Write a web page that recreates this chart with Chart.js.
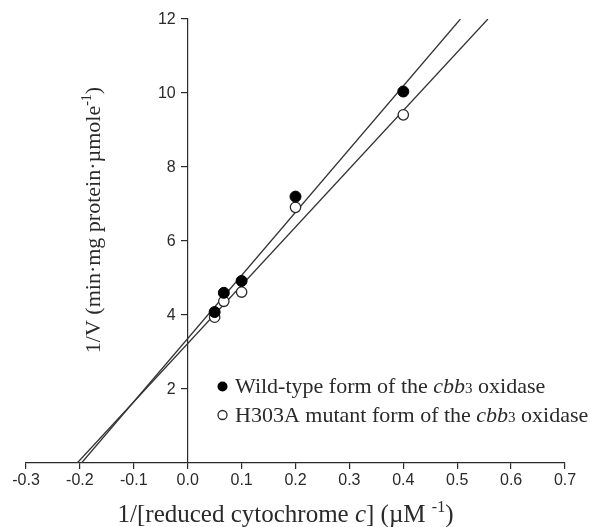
<!DOCTYPE html>
<html>
<head>
<meta charset="utf-8">
<script src="https://cdn.jsdelivr.net/npm/chart.js@4.4.0/dist/chart.umd.min.js"></script>
<style>
  html, body { margin: 0; padding: 0; background: #fff; }
  #wrap { width: 591px; height: 527px; position: relative; }
</style>
</head>
<body>
<div id="wrap"><canvas id="graf"></canvas></div>
<script>
// valores
const wtX = [0.05, 0.067, 0.1, 0.2, 0.4];
const wtY = [4.08, 4.6, 4.92, 7.2, 10.04];
const mutX = [0.05, 0.067, 0.1, 0.2, 0.4];
const mutY = [3.94, 4.37, 4.62, 6.91, 9.41];

// retas de regressao (pontas)
const wtFitX = [-0.197, 0.506];
const wtFitY = [0, 12];
const mutFitX = [-0.205, 0.557];
const mutFitY = [0, 12];

const xTicks = [-0.3, -0.2, -0.1, 0.0, 0.1, 0.2, 0.3, 0.4, 0.5, 0.6, 0.7];
const yTicks = [2, 4, 6, 8, 10, 12];

const SERIF = '"Liberation Serif", "Times New Roman", serif';
const SANS = '"Liberation Sans", Arial, sans-serif';
const INK = '#2a2a2a';

function pares(xs, ys) {
    return xs.map((x, i) => ({ x: x, y: ys[i] }));
}

// texto com pedacos em italico / sobrescrito
function fonte(p, size) {
    if (p.s === 'i') return 'italic ' + size + 'px ' + SERIF;
    if (p.s === 'sup') return Math.round(size * 0.62) + 'px ' + SERIF;
    if (p.s === 'small') return Math.round(size * 0.68) + 'px ' + SERIF;
    return size + 'px ' + SERIF;
}

function larguraRica(ctx, partes, size) {
    let w = 0;
    for (const p of partes) {
        ctx.font = fonte(p, size);
        w += ctx.measureText(p.t).width;
    }
    return w;
}

function textoRico(ctx, partes, x, y, size, align) {
    let cx = x;
    if (align === 'center') cx = x - larguraRica(ctx, partes, size) / 2;
    ctx.textBaseline = 'alphabetic';
    ctx.textAlign = 'left';
    ctx.fillStyle = INK;
    for (const p of partes) {
        ctx.font = fonte(p, size);
        const dy = p.s === 'sup' ? -size * 0.42 : 0;
        ctx.fillText(p.t, cx, y + dy);
        cx += ctx.measureText(p.t).width;
    }
}

const tituloX = [
    { t: '1/[reduced cytochrome ' }, { t: 'c', s: 'i' }, { t: '] (\u00b5M ' },
    { t: '-1', s: 'sup' }, { t: ')' }
];
const tituloY = [
    { t: '1/V (min\u00b7mg protein\u00b7\u00b5mole' }, { t: '-1', s: 'sup' }, { t: ')' }
];
const legenda1 = [
    { t: 'Wild-type form of the ' }, { t: 'cbb', s: 'i' }, { t: '3', s: 'small' }, { t: ' oxidase' }
];
const legenda2 = [
    { t: 'H303A mutant form of the ' }, { t: 'cbb', s: 'i' }, { t: '3', s: 'small' }, { t: ' oxidase' }
];

const textosPlugin = {
    id: 'textos',
    afterDraw(chart) {
        const ctx = chart.ctx;
        const a = chart.chartArea;
        const sy = chart.scales.y;
        const x0 = chart.scales.x.getPixelForValue(0);
        ctx.save();

        // rotulos do eixo y (a esquerda do eixo que passa no x=0)
        ctx.font = '16px ' + SANS;
        ctx.fillStyle = INK;
        ctx.textAlign = 'right';
        ctx.textBaseline = 'middle';
        for (const v of yTicks) {
            ctx.fillText(String(v), x0 - 12, sy.getPixelForValue(v) + 1);
        }

        // titulo do eixo x
        textoRico(ctx, tituloX, (a.left + a.right) / 2 - 10, a.bottom + 59, 25, 'center');

        // titulo do eixo y (girado)
        ctx.save();
        ctx.translate(a.left + 74, a.top + 201);
        ctx.rotate(-Math.PI / 2);
        textoRico(ctx, tituloY, 0, 0, 22, 'center');
        ctx.restore();

        // legenda
        const mx = a.left + 196.5;
        ctx.beginPath();
        ctx.arc(mx, a.top + 367.5, 5, 0, Math.PI * 2);
        ctx.fillStyle = '#000';
        ctx.fill();
        ctx.beginPath();
        ctx.arc(mx, a.top + 396, 4.5, 0, Math.PI * 2);
        ctx.fillStyle = '#fff';
        ctx.fill();
        ctx.lineWidth = 1.3;
        ctx.strokeStyle = INK;
        ctx.stroke();
        textoRico(ctx, legenda1, a.left + 209, a.top + 374, 22, 'left');
        textoRico(ctx, legenda2, a.left + 209, a.top + 402.7, 22, 'left');

        ctx.restore();
    }
};

const ctx = document.getElementById('graf').getContext('2d');
new Chart(ctx, {
    type: 'scatter',
    data: {
        datasets: [
            {
                label: 'Wild-type',
                data: pares(wtX, wtY),
                pointRadius: 5.5,
                backgroundColor: '#000',
                borderColor: '#000',
                borderWidth: 1,
                order: 0
            },
            {
                label: 'H303A',
                data: pares(mutX, mutY),
                pointRadius: 5.2,
                backgroundColor: '#fff',
                borderColor: INK,
                borderWidth: 1.3,
                order: 0
            },
            {
                type: 'line',
                label: 'fit wt',
                data: pares(wtFitX, wtFitY),
                borderColor: '#333',
                borderWidth: 1.3,
                pointRadius: 0,
                fill: false,
                order: 1
            },
            {
                type: 'line',
                label: 'fit mut',
                data: pares(mutFitX, mutFitY),
                borderColor: '#333',
                borderWidth: 1.3,
                pointRadius: 0,
                fill: false,
                order: 1
            }
        ]
    },
    options: {
        responsive: true,
        maintainAspectRatio: false,
        animation: false,
        layout: { padding: { left: 26, right: 26, top: 19, bottom: 0 } },
        plugins: {
            legend: { display: false },
            tooltip: { enabled: false }
        },
        scales: {
            x: {
                type: 'linear',
                position: 'bottom',
                min: xTicks[0],
                max: xTicks[xTicks.length - 1],
                afterBuildTicks: (s) => { s.ticks = xTicks.map(v => ({ value: v })); },
                afterFit: (s) => { s.height = 64; },
                grid: { drawOnChartArea: false, drawTicks: true, tickLength: 6, color: INK, lineWidth: 1.2 },
                border: { display: true, color: INK, width: 1.2 },
                ticks: {
                    color: INK,
                    padding: 2,
                    maxRotation: 0,
                    autoSkip: false,
                    font: { family: SANS, size: 16 },
                    callback: (v) => (Math.abs(v) < 1e-9 ? '0.0' : Number(v).toFixed(1))
                }
            },
            y: {
                type: 'linear',
                position: { x: 0 },
                min: 0,
                max: 12,
                afterBuildTicks: (s) => { s.ticks = yTicks.map(v => ({ value: v })); },
                grid: { drawOnChartArea: false, drawTicks: true, tickLength: 6, color: INK, lineWidth: 1.2 },
                border: { display: true, color: INK, width: 1.2 },
                ticks: {
                    display: false,
                    autoSkip: false
                }
            }
        }
    },
    plugins: [textosPlugin]
});
</script>
</body>
</html>
